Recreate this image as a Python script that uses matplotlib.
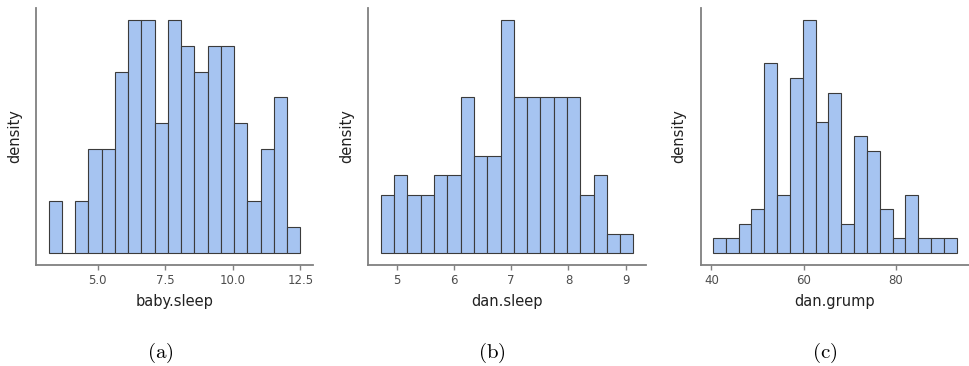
import matplotlib
matplotlib.use("Agg")
import matplotlib.pyplot as plt
import numpy as np

# ---- data (counts per bin) ----
baby_sleep_start = 3.18
baby_sleep_width = 0.4905
baby_sleep_counts = [2, 0, 2, 4, 4, 7, 9, 9, 5, 9, 8, 7, 8, 8, 5, 2, 4, 6, 1]
baby_sleep_ticks = [5.0, 7.5, 10.0, 12.5]
baby_sleep_ticklabels = ["5.0", "7.5", "10.0", "12.5"]

dan_sleep_start = 4.727
dan_sleep_width = 0.2319
dan_sleep_counts = [3, 4, 3, 3, 4, 4, 8, 5, 5, 12, 8, 8, 8, 8, 8, 3, 4, 1, 1]
dan_sleep_ticks = [5, 6, 7, 8, 9]
dan_sleep_ticklabels = ["5", "6", "7", "8", "9"]

dan_grump_start = 40.33
dan_grump_width = 2.78
dan_grump_counts = [1, 1, 2, 3, 13, 4, 12, 16, 9, 11, 2, 8, 7, 3, 1, 4, 1, 1, 1]
dan_grump_ticks = [40, 60, 80]
dan_grump_ticklabels = ["40", "60", "80"]

xlabels = ["baby.sleep", "dan.sleep", "dan.grump"]
captions = ["(a)", "(b)", "(c)"]

panels = [
    (baby_sleep_start, baby_sleep_width, baby_sleep_counts, baby_sleep_ticks, baby_sleep_ticklabels),
    (dan_sleep_start, dan_sleep_width, dan_sleep_counts, dan_sleep_ticks, dan_sleep_ticklabels),
    (dan_grump_start, dan_grump_width, dan_grump_counts, dan_grump_ticks, dan_grump_ticklabels),
]

plt.rcParams["mathtext.fontset"] = "cm"

fig = plt.figure(figsize=(9.69, 3.66), dpi=100)
W, H = 969.0, 366.0
axes_px = [(36, 313), (368.3, 646), (700.7, 969)]
top_px, bottom_px = 8.0, 264.7
caption_x = [160, 492, 825]

fill = "#a6c4f1"
edge = "#3b3b3b"
spine_c = "#808080"

for i, ((start, bw, counts, ticks, tlabels), (l, r)) in enumerate(zip(panels, axes_px)):
    ax = fig.add_axes([l / W, (H - bottom_px) / H, (r - l) / W, (bottom_px - top_px) / H])
    counts = np.asarray(counts, dtype=float)
    n = len(counts)
    edges = start + bw * np.arange(n + 1)
    density = counts / (counts.sum() * bw)
    ax.bar(edges[:-1], density, width=bw, align="edge", color=fill,
           edgecolor=edge, linewidth=0.8)
    ax.use_sticky_edges = False
    ax.margins(x=0.05, y=0.05)
    for s in ["top", "right"]:
        ax.spines[s].set_visible(False)
    for s in ["left", "bottom"]:
        ax.spines[s].set_color(spine_c)
        ax.spines[s].set_linewidth(1.3)
    ax.set_yticks([])
    ax.set_xticks(ticks)
    ax.set_xticklabels(tlabels)
    ax.tick_params(axis="x", colors=spine_c, length=3.5, width=1.0, pad=3.5,
                   labelsize=8.5, labelcolor="#4d4d4d")
    ax.set_xlabel(xlabels[i], fontsize=10.5, color="#222222", labelpad=5)
    ax.set_ylabel("density", fontsize=10.5, color="#222222")
    ax.yaxis.set_label_coords(-14.0 / (r - l), 0.5)
    fig.text(caption_x[i] / W, (H - 352.5) / H, r"$\mathrm{" + captions[i] + "}$",
             fontsize=15, ha="center", va="center", color="black")

fig.savefig("out.png", dpi=100)
